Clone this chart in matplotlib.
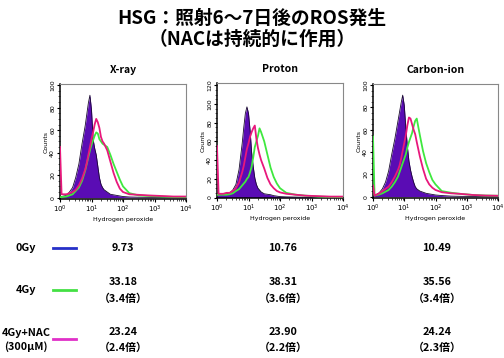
import numpy as np
import matplotlib
matplotlib.use("Agg")
import matplotlib.pyplot as plt
from matplotlib.ticker import LogLocator, NullFormatter

plt.rcParams['font.family'] = ['Noto Sans CJK JP', 'DejaVu Sans']

W, H = 504, 358

# ---- data ----
title_lines = ["HSG：照射6～7日後のROS発生", "（NACは持続的に作用）"]
panels = ["X-ray", "Proton", "Carbon-ion"]

# log10 fluorescence positions (Hydrogen peroxide)
log_fl = [0.0, 0.05, 0.2, 0.3, 0.4, 0.5, 0.6, 0.7, 0.8, 0.85, 0.9, 0.95, 1.0, 1.05,
          1.1, 1.15, 1.2, 1.25, 1.3, 1.35, 1.4, 1.5, 1.6, 1.7, 1.8, 1.9, 2.0, 2.2,
          2.5, 2.8, 3.2, 3.6, 4.0]

xray_0gy = [1, 1, 2, 5, 9, 18, 30, 48, 64, 74, 84, 91, 78, 52, 44, 38, 28, 18, 12, 9, 7,
            5, 3, 2.5, 2, 1.5, 1, 0.6, 0.4, 0.3, 0.2, 0.2, 0.2]
xray_4gy = [0.5, 0.5, 1, 2, 3, 6, 9, 15, 24, 30, 36, 42, 47, 51, 55, 58, 57, 52, 50, 48,
            47, 45, 38, 30, 23, 16, 10, 4, 2, 1.5, 1, 0.6, 0.5]
xray_nac = [45, 3, 3, 4, 5, 7, 11, 17, 25, 31, 38, 45, 52, 58, 65, 70, 67, 62, 54, 50,
            48, 42, 32, 22, 14, 8, 5, 3, 2.5, 2, 1.5, 1, 1]

proton_0gy = [3, 3, 4, 4, 5, 8, 14, 30, 58, 75, 90, 97, 90, 72, 48, 33, 21, 14, 10, 8, 6,
              4, 3.5, 3, 2, 1.5, 1, 0.7, 0.5, 0.3, 0.2, 0.2, 0.2]
proton_4gy = [3, 3, 3, 3, 3.5, 4.5, 7, 9, 13, 15, 17, 20, 22, 27, 33, 43, 54, 60, 66, 74,
              70, 60, 46, 32, 22, 15, 10, 5, 3, 2, 1, 0.6, 0.5]
proton_nac = [55, 4, 4, 5, 5, 7, 10, 16, 27, 34, 43, 52, 58, 65, 70, 74, 77, 63, 53, 46,
              40, 31, 21, 14, 10, 7, 5.5, 4, 3, 2, 1.5, 1, 1]

carbon_0gy = [1, 1, 3.5, 7, 13, 23, 38, 52, 68, 76, 84, 91, 82, 62, 45, 32, 24, 18, 13, 9,
              7, 5, 4, 3, 2.5, 2, 1.5, 1, 0.5, 0.3, 0.2, 0.2, 0.2]
carbon_4gy = [54, 1, 2, 3, 4.5, 6, 9, 13, 18, 22, 26, 30, 34, 38, 44, 49, 53, 57, 63, 68,
              70, 55, 41, 30, 22, 15, 11, 5, 3.5, 2.5, 1.5, 1, 0.8]
carbon_nac = [10, 1, 3, 5, 7, 9, 13, 18, 24, 28, 34, 41, 48, 55, 64, 71, 70, 65, 60, 56,
              49, 36, 25, 16, 11, 8, 6, 4, 3, 2.5, 1.5, 1, 0.8]

y_ticks = [[0, 20, 40, 60, 80, 100], [0, 20, 40, 60, 80, 100, 120], [0, 20, 40, 60, 80, 100]]

row_labels = ["0Gy", "4Gy", "4Gy+NAC\n(300μM)"]
mean_0gy = ["9.73", "10.76", "10.49"]
mean_4gy = ["33.18", "38.31", "35.56"]
fold_4gy = ["（3.4倍）", "（3.6倍）", "（3.4倍）"]
mean_nac = ["23.24", "23.90", "24.24"]
fold_nac = ["（2.4倍）", "（2.2倍）", "（2.3倍）"]

# ---- styles ----
C_FILL = '#5a0cb4'
C_GREEN = '#3fe83f'
C_MAG = '#e8187c'
C_LEG = ['#2630c8', '#44e044', '#e030c8']

fig = plt.figure(figsize=(W / 100, H / 100), dpi=100)
fig.patch.set_facecolor('white')


def px(x, y):
    return x / W, 1 - y / H


boxes = [(60, 84, 186, 199), (217, 83, 343, 198), (373, 84, 498, 198)]
ylims = [(-1.2, 101), (-0.5, 122.5), (-1.2, 101)]
series = [(xray_0gy, xray_4gy, xray_nac), (proton_0gy, proton_4gy, proton_nac),
          (carbon_0gy, carbon_4gy, carbon_nac)]

xs = 10 ** np.array(log_fl)
for i, (l, t, r, b) in enumerate(boxes):
    ax = fig.add_axes([l / W, 1 - b / H, (r - l) / W, (b - t) / H])
    s0, s4, sn = series[i]
    ax.fill_between(xs, 0, s0, color=C_FILL, lw=0, zorder=2)
    ax.plot(xs, s0, color='#1a0a30', lw=0.6, zorder=3)
    ax.plot(xs, s4, color=C_GREEN, lw=1.3, zorder=4)
    ax.plot(xs, sn, color=C_MAG, lw=1.3, zorder=5)
    ax.set_xscale('log')
    ax.set_xlim(1, 1e4)
    ax.set_ylim(*ylims[i])
    ax.set_yticks(y_ticks[i])
    ax.set_yticklabels([str(v) for v in y_ticks[i]], rotation=90, va='center', fontsize=4.5,
                       family='DejaVu Sans')
    ax.xaxis.set_major_locator(LogLocator(base=10, numticks=10))
    ax.xaxis.set_minor_locator(LogLocator(base=10, subs=np.arange(2, 10), numticks=10))
    ax.xaxis.set_minor_formatter(NullFormatter())
    ax.tick_params(axis='x', labelsize=5, length=2.5, width=0.8, pad=1)
    ax.tick_params(axis='x', which='minor', length=1.5, width=0.5)
    ax.tick_params(axis='y', length=2.5, width=0.8, pad=1)
    ax.set_yticks(np.arange(0, y_ticks[i][-1] + 1, 5), minor=True)
    ax.tick_params(axis='y', which='minor', length=1.2, width=0.4)
    for lab in ax.get_xticklabels():
        lab.set_family('DejaVu Sans')
    for sp in ['left', 'bottom']:
        ax.spines[sp].set_linewidth(1.1)
        ax.spines[sp].set_color('black')
    for sp in ['top', 'right']:
        ax.spines[sp].set_linewidth(0.8)
        ax.spines[sp].set_color('#888888')
    ax.set_ylabel('Counts', fontsize=4.5, labelpad=1, family='DejaVu Sans')
    ax.set_xlabel('Hydrogen peroxide', fontsize=4.5, labelpad=1, family='DejaVu Sans')
    ax.set_title(panels[i], fontsize=7.5, fontweight='bold', pad=8)

# ---- titles ----
fig.text(*px(252, 18), title_lines[0], ha='center', va='center', fontsize=13.5, fontweight='bold')
fig.text(*px(252, 39), title_lines[1], ha='center', va='center', fontsize=13.5, fontweight='bold')

# ---- table ----
col_x = [123, 283, 437]
fs = 7.8
fig.text(*px(26, 248), row_labels[0], ha='center', va='center', fontsize=fs, fontweight='bold')
fig.text(*px(26, 290), row_labels[1], ha='center', va='center', fontsize=fs, fontweight='bold')
fig.text(*px(26, 340), row_labels[2], ha='center', va='center', fontsize=fs, fontweight='bold',
         linespacing=1.3)
for yy, c in zip([248, 290, 339], C_LEG):
    fig.add_artist(plt.Line2D([53 / W, 76 / W], [1 - yy / H, 1 - yy / H], color=c, lw=2.0))
for j, cx in enumerate(col_x):
    fig.text(*px(cx, 248), mean_0gy[j], ha='center', va='center', fontsize=fs, fontweight='bold')
    fig.text(*px(cx, 282), mean_4gy[j], ha='center', va='center', fontsize=fs, fontweight='bold')
    fig.text(*px(cx, 299), fold_4gy[j], ha='center', va='center', fontsize=fs, fontweight='bold')
    fig.text(*px(cx, 332), mean_nac[j], ha='center', va='center', fontsize=fs, fontweight='bold')
    fig.text(*px(cx, 348), fold_nac[j], ha='center', va='center', fontsize=fs, fontweight='bold')

fig.savefig('out.png', dpi=100)
